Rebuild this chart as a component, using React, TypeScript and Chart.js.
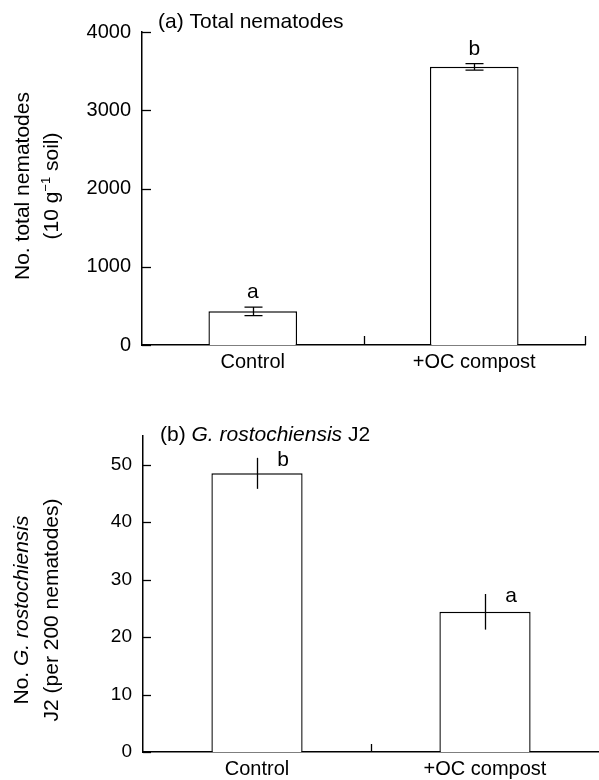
import React, { useEffect, useRef } from "react";
import { Chart, registerables } from "chart.js";

Chart.register(...registerables);

// ---------- data ----------
const categories = ["Control", "+OC compost"];

const totalMeans = [430, 3555];
const totalErrors = [55, 42];
const totalLetters = ["a", "b"];
const totalYTicks = [0, 1000, 2000, 3000, 4000];

const j2Means = [48.5, 24.4];
const j2Errors = [2.7, 3.1];
const j2Letters = ["b", "a"];
const j2YTicks = [0, 10, 20, 30, 40, 50];

// ---------- styling ----------
const FAMILY = '"Liberation Sans", Arial, Helvetica, sans-serif';
const font = (size: number, italic = false) =>
  `${italic ? "italic " : ""}${size}px ${FAMILY}`;

type Seg = { text: string; size?: number; italic?: boolean; dy?: number };

function segWidth(ctx: CanvasRenderingContext2D, segs: Seg[], base: number) {
  let w = 0;
  for (const s of segs) {
    ctx.font = font(s.size ?? base, s.italic);
    w += ctx.measureText(s.text).width;
  }
  return w;
}

function drawSegs(
  ctx: CanvasRenderingContext2D,
  segs: Seg[],
  x: number,
  y: number,
  base: number,
  align: "left" | "center"
) {
  const total = segWidth(ctx, segs, base);
  let cx = align === "center" ? x - total / 2 : x;
  ctx.textAlign = "left";
  ctx.textBaseline = "alphabetic";
  for (const s of segs) {
    ctx.font = font(s.size ?? base, s.italic);
    ctx.fillText(s.text, cx, y + (s.dy ?? 0));
    cx += ctx.measureText(s.text).width;
  }
}

type PanelCfg = {
  title: Seg[];
  titleX: number;
  titleY: number;
  yTitle: Seg[][];
  yTitleX: number[];
  yTitleCenterY: number;
  errors: number[];
  letters: string[];
  caps: boolean;
  letterDx: number;
  letterDy: number;
  tickLen: number;
  rightTick: boolean;
};

function makePlugin(cfg: PanelCfg) {
  return {
    id: "panelDecor",
    afterDatasetsDraw(chart: any) {
      const ctx: CanvasRenderingContext2D = chart.ctx;
      const xs = chart.scales.x;
      const ys = chart.scales.y;
      const area = chart.chartArea;
      ctx.save();
      ctx.strokeStyle = "#000";
      ctx.fillStyle = "#000";
      ctx.lineWidth = 1.3;

      // inward y tick marks
      ys.ticks.forEach((t: any) => {
        const py = Math.round(ys.getPixelForValue(t.value)) + 0.5;
        ctx.beginPath();
        ctx.moveTo(area.left, py);
        ctx.lineTo(area.left + cfg.tickLen, py);
        ctx.stroke();
      });

      // inward x tick marks between categories
      const n = categories.length;
      const xt: number[] = [];
      for (let i = 1; i < n; i++) {
        xt.push((xs.getPixelForValue(i - 1) + xs.getPixelForValue(i)) / 2);
      }
      if (cfg.rightTick) xt.push(area.right);
      xt.forEach((px) => {
        const p = Math.round(px) + 0.5;
        ctx.beginPath();
        ctx.moveTo(p, area.bottom);
        ctx.lineTo(p, area.bottom - cfg.tickLen);
        ctx.stroke();
      });

      // error bars and letters
      const meta = chart.getDatasetMeta(0);
      const values = chart.data.datasets[0].data as number[];
      meta.data.forEach((bar: any, i: number) => {
        const v = values[i];
        const e = cfg.errors[i];
        const px = Math.round(bar.x) + 0.5;
        const top = ys.getPixelForValue(v + e);
        const bot = ys.getPixelForValue(v - e);
        ctx.lineWidth = 1.3;
        ctx.beginPath();
        ctx.moveTo(px, top);
        ctx.lineTo(px, bot);
        if (cfg.caps) {
          ctx.moveTo(px - 9, top);
          ctx.lineTo(px + 9, top);
          ctx.moveTo(px - 9, bot);
          ctx.lineTo(px + 9, bot);
        }
        ctx.stroke();
        ctx.font = font(21);
        ctx.textAlign = "center";
        ctx.textBaseline = "alphabetic";
        ctx.fillText(cfg.letters[i], bar.x + cfg.letterDx, top + cfg.letterDy);
      });

      // panel title
      drawSegs(ctx, cfg.title, cfg.titleX, cfg.titleY, 21, "left");

      // rotated y-axis title
      cfg.yTitle.forEach((line, i) => {
        ctx.save();
        ctx.translate(cfg.yTitleX[i], cfg.yTitleCenterY);
        ctx.rotate(-Math.PI / 2);
        drawSegs(ctx, line, 0, 0, 21, "center");
        ctx.restore();
      });
      ctx.restore();
    },
  };
}

function buildConfig(
  values: number[],
  yTicks: number[],
  yMax: number,
  yWidth: number,
  xHeight: number,
  padding: { left: number; right: number; top: number; bottom: number },
  tickFont: number,
  xPad: number,
  barPct: number,
  plugin: any
): any {
  return {
    type: "bar",
    data: {
      labels: categories,
      datasets: [
        {
          data: values,
          backgroundColor: "#ffffff",
          borderColor: "#000000",
          borderWidth: 1.4,
          barPercentage: barPct,
          categoryPercentage: 1,
        },
      ],
    },
    options: {
      responsive: false,
      animation: false,
      devicePixelRatio: 1,
      layout: { padding },
      plugins: {
        legend: { display: false },
        tooltip: { enabled: false },
        title: { display: false },
      },
      scales: {
        x: {
          type: "category",
          offset: true,
          grid: { display: false, drawTicks: false },
          border: { display: true, color: "#000", width: 1.5 },
          ticks: {
            color: "#000",
            font: { family: FAMILY, size: 20 },
            padding: xPad,
            maxRotation: 0,
            autoSkip: false,
          },
          afterFit: (s: any) => {
            s.height = xHeight;
          },
        },
        y: {
          type: "linear",
          min: 0,
          max: yMax,
          grid: { display: false, drawTicks: false },
          border: { display: true, color: "#000", width: 1.5 },
          ticks: {
            color: "#000",
            font: { family: FAMILY, size: tickFont },
            padding: 11,
            includeBounds: false,
            callback: (v: any) => String(v),
          },
          afterBuildTicks: (s: any) => {
            s.ticks = yTicks.map((v) => ({ value: v }));
          },
          afterFit: (s: any) => {
            s.width = yWidth;
          },
        },
      },
    },
    plugins: [plugin],
  };
}

function Panel(props: { config: any; top: number }) {
  const ref = useRef<HTMLCanvasElement | null>(null);
  useEffect(() => {
    if (!ref.current) return;
    const chart = new Chart(ref.current, props.config);
    return () => chart.destroy();
  }, []);
  return (
    <canvas
      ref={ref}
      width={599}
      height={390}
      style={{
        position: "absolute",
        left: 0,
        top: props.top,
        width: 599,
        height: 390,
        display: "block",
      }}
    />
  );
}

export default function App() {
  const pluginA = makePlugin({
    title: [{ text: "(a) Total nematodes" }],
    titleX: 158,
    titleY: 28,
    yTitle: [
      [{ text: "No. total nematodes" }],
      [
        { text: "(10 g" },
        { text: "\u22121", size: 13, dy: -8 },
        { text: " soil)" },
      ],
    ],
    yTitleX: [29, 58],
    yTitleCenterY: 186,
    errors: totalErrors,
    letters: totalLetters,
    caps: true,
    letterDx: 0,
    letterDy: -9,
    tickLen: 9,
    rightTick: true,
  });
  const pluginB = makePlugin({
    title: [
      { text: "(b) " },
      { text: "G. rostochiensis", italic: true },
      { text: " J2" },
    ],
    titleX: 160,
    titleY: 51,
    yTitle: [
      [{ text: "No. " }, { text: "G. rostochiensis", italic: true }],
      [{ text: "J2 (per 200 nematodes)" }],
    ],
    yTitleX: [28, 58],
    yTitleCenterY: 220,
    errors: j2Errors,
    letters: j2Letters,
    caps: false,
    letterDx: 26,
    letterDy: 8,
    tickLen: 8,
    rightTick: false,
  });

  const configA = buildConfig(
    totalMeans,
    totalYTicks,
    4000,
    142,
    45,
    { left: 0, right: 14, top: 32, bottom: 0 },
    20,
    5,
    0.4,
    pluginA
  );
  const configB = buildConfig(
    j2Means,
    j2YTicks,
    55,
    143,
    28,
    { left: 0, right: 0, top: 46, bottom: 0 },
    19,
    5,
    0.4,
    pluginB
  );

  return (
    <div
      style={{
        position: "absolute",
        left: 0,
        top: 0,
        width: 599,
        height: 780,
        background: "#fff",
      }}
    >
      <Panel config={configA} top={0} />
      <Panel config={configB} top={390} />
    </div>
  );
}
